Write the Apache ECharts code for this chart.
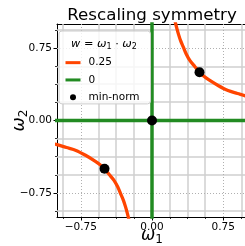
<!DOCTYPE html>
<html>
<head>
<meta charset="UTF-8">
<title>Rescaling symmetry</title>
<script src="https://cdn.jsdelivr.net/npm/echarts@6/dist/echarts.min.js"></script>
<style>
  html, body { margin: 0; padding: 0; background: #fff; }
  #main { width: 245px; height: 246px; }
</style>
</head>
<body>
<div id="main"></div>
<script>
// values
const majorTicks = [-0.75, 0, 0.75];
const minorTicks = [-0.9375, -0.75, -0.5625, -0.375, -0.1875, 0, 0.1875, 0.375, 0.5625, 0.75, 0.9375];
const minorGrid = [-0.9375, -0.5625, -0.375, -0.1875, 0.1875, 0.375, 0.5625, 0.9375];
const majorGrid = [-0.75, 0.75];

// w = 0.25 hyperbola, two branches
const curvePos = [[0.24, 1.04], [0.26, 0.96], [0.28, 0.89], [0.3, 0.83], [0.33, 0.76], [0.36, 0.69],
  [0.4, 0.62], [0.45, 0.56], [0.5, 0.5], [0.55, 0.455], [0.6, 0.42], [0.7, 0.36], [0.8, 0.31],
  [0.9, 0.28], [1.0, 0.25], [1.03, 0.243]];
const curveNeg = [[-1.03, -0.243], [-1.0, -0.25], [-0.9, -0.28], [-0.8, -0.31], [-0.7, -0.36],
  [-0.6, -0.42], [-0.55, -0.455], [-0.5, -0.5], [-0.45, -0.56], [-0.4, -0.62], [-0.36, -0.69],
  [-0.33, -0.76], [-0.3, -0.83], [-0.28, -0.89], [-0.26, -0.96], [-0.24, -1.04]];

// w = 0 : the two axes
const zeroH = [[-1.05, 0], [1.05, 0]];
const zeroV = [[0, -1.05], [0, 1.05]];

const minNorm = [[0.5, 0.5], [-0.5, -0.5], [0, 0]];

const orange = '#ff4500';
const green = '#228b22';
const font = 'DejaVu Sans';

function fmtTick(v) {
  if (v === 0) return '0.00';
  return (v < 0 ? '\u2212' : '') + Math.abs(v).toFixed(2);
}

var chart = echarts.init(document.getElementById('main'), null, { renderer: 'canvas' });

var gridLines = [];
minorGrid.forEach(function (v) {
  gridLines.push({ xAxis: v, lineStyle: { color: '#cfcfcf', width: 1.5, type: 'solid' } });
  gridLines.push({ yAxis: v, lineStyle: { color: '#cfcfcf', width: 1.5, type: 'solid' } });
});
majorGrid.forEach(function (v) {
  gridLines.push({ xAxis: v, lineStyle: { color: '#b0b0b0', width: 1, type: [1, 2] } });
  gridLines.push({ yAxis: v, lineStyle: { color: '#b0b0b0', width: 1, type: [1, 2] } });
});

var nameRich = {
  w: { fontFamily: font, fontStyle: 'italic', fontSize: 17, color: '#000' },
  s: { fontFamily: font, fontSize: 12, color: '#000', padding: [8, 0, 0, 0] }
};

function mainAxis(pos) {
  return {
    type: 'value', position: pos, min: -1, max: 1,
    axisLine: { show: true, onZero: false, lineStyle: { color: '#000', width: 1 } },
    axisTick: { show: true, customValues: majorTicks, length: 3.5, lineStyle: { color: '#000', width: 1 } },
    axisLabel: { show: true, customValues: majorTicks, formatter: fmtTick, color: '#000',
      fontFamily: font, fontSize: 10.5, margin: 5 },
    splitLine: { show: false },
    nameLocation: 'middle',
    nameMoveOverlap: false,
    nameTextStyle: { rich: nameRich }
  };
}
function minorAxis(pos) {
  return {
    type: 'value', position: pos, min: -1, max: 1,
    axisLine: { show: false, onZero: false },
    axisTick: { show: true, customValues: minorTicks, length: 2, lineStyle: { color: '#000', width: 0.8 } },
    axisLabel: { show: false },
    splitLine: { show: false }
  };
}
function frameAxis(pos) {
  return {
    type: 'value', position: pos, min: -1, max: 1,
    axisLine: { show: true, onZero: false, lineStyle: { color: '#000', width: 1 } },
    axisTick: { show: false }, axisLabel: { show: false }, splitLine: { show: false }
  };
}

var xMain = mainAxis('bottom');
xMain.name = '{w|ω}{s|1}';
xMain.nameGap = 9;

var yMain = mainAxis('left');
yMain.name = '{w|ω}{s|2}';
yMain.nameRotate = 90;
yMain.nameGap = 27;

option = {
  animation: false,
  graphic: [
    {
      type: 'text', x: 152, y: 15.5, z: 100,
      style: { text: 'Rescaling symmetry', fontFamily: font, fontSize: 16.7, fill: '#000',
        align: 'center', verticalAlign: 'middle' }
    },
    {
      type: 'text', x: 104, y: 44, z: 100,
      style: {
        text: '{i|w} = {i|ω}{s|1} · {i|ω}{s|2}', fontFamily: font, fontSize: 11.3, fill: '#000',
        align: 'center', verticalAlign: 'middle',
        rich: {
          i: { fontFamily: font, fontStyle: 'italic', fontSize: 11.3, fill: '#000' },
          s: { fontFamily: font, fontSize: 8, fill: '#000', padding: [5, 0, 0, 0] }
        }
      }
    }
  ],
  legend: {
    left: 59, top: 31, orient: 'vertical', selectedMode: false, z: 8,
    data: [
      { name: '0.25', itemStyle: { opacity: 0, borderWidth: 0 }, lineStyle: { width: 3 } },
      { name: '0', itemStyle: { opacity: 0, borderWidth: 0 }, lineStyle: { width: 3 } },
      { name: 'min-norm', icon: 'circle' }
    ],
    itemWidth: 15, itemHeight: 6, itemGap: 5,
    padding: [25.5, 11, 0.5, 5],
    backgroundColor: 'rgba(255,255,255,0.8)',
    borderColor: '#cccccc', borderWidth: 1, borderRadius: 3,
    textStyle: { fontFamily: font, fontSize: 10.5, lineHeight: 12.3, color: '#000', padding: [0, 0, 0, 3] }
  },
  grid: { left: 57, top: 24, width: 190, height: 193, outerBoundsMode: 'none', containLabel: false },
  xAxis: [xMain, minorAxis('bottom'), frameAxis('top')],
  yAxis: [yMain, minorAxis('left')],
  series: [
    {
      name: 'grid', type: 'line', data: [], z: 1, silent: true,
      markLine: { silent: true, symbol: ['none', 'none'], label: { show: false }, z: 1, data: gridLines }
    },
    { name: '0', type: 'line', data: zeroH, symbol: 'none', z: 3,
      lineStyle: { color: green, width: 3.5 }, itemStyle: { color: green } },
    { name: '0', type: 'line', data: zeroV, symbol: 'none', z: 3,
      lineStyle: { color: green, width: 3.5 }, itemStyle: { color: green } },
    { name: '0.25', type: 'line', data: curvePos, symbol: 'none', smooth: 0.3, z: 4,
      lineStyle: { color: orange, width: 3.3 }, itemStyle: { color: orange } },
    { name: '0.25', type: 'line', data: curveNeg, symbol: 'none', smooth: 0.3, z: 4,
      lineStyle: { color: orange, width: 3.3 }, itemStyle: { color: orange } },
    { name: 'min-norm', type: 'scatter', data: minNorm, symbolSize: 10, z: 5,
      itemStyle: { color: '#000', opacity: 1 } }
  ]
};

option && chart.setOption(option);
</script>
</body>
</html>
